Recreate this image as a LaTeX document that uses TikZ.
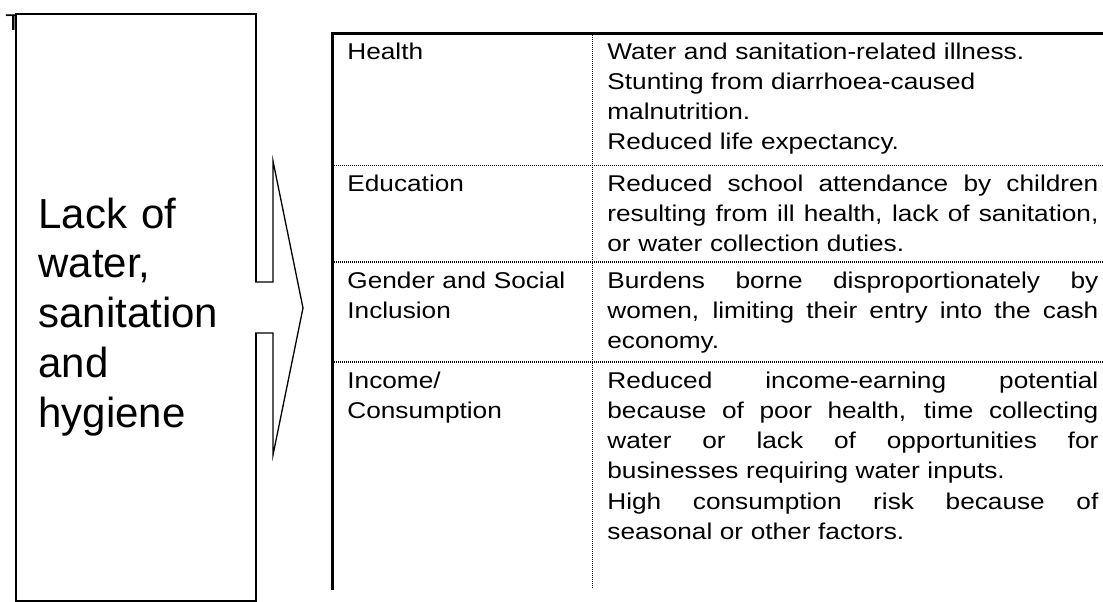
\documentclass[tikz,border=0pt]{standalone}
\usepackage{fontspec}
\setmainfont{Liberation Sans}
\newfontfamily\cellfont{Liberation Sans}[FakeStretch=1.15]
\usepackage{tikz}
\usetikzlibrary{positioning}
\newlength{\descwidth}
\setlength{\descwidth}{245.5pt}
\newcommand{\fillline}[1]{\makebox[\descwidth][s]{\spaceskip=0pt\xspaceskip=0pt #1}}
\tikzset{
  cellText/.style={font=\cellfont\fontsize{11.4}{15.15}\selectfont, inner sep=0pt, anchor=base west, align=left, text width=120pt},
  descText/.style={cellText, text width=\descwidth},
  bigText/.style={font=\fontsize{21}{24.9}\selectfont, inner sep=0pt, anchor=base west, align=left, text width=100pt},
  boxLine/.style={draw=black, line width=0.75pt, fill=white, inner sep=0pt},
  arrowLine/.style={draw=black, line width=0.65pt},
  ruleThick/.style={line width=1.5pt},
  ruleDot/.style={line width=0.7pt, dash pattern=on 0.5pt off 0.5pt}
}

\begin{document}
\begin{tikzpicture}[x=0.5pt,y=-0.5pt]
\useasboundingbox (0,0) rectangle (1103,601);

% cause box
\node[cellText, text width=] (tmark) at (5,30) {T};
\node[boxLine, minimum width=120pt, minimum height=293.5pt, anchor=north west] (cause) at (15,13) {};
\node[bigText] (causeText) at (38,228) {Lack of\\ water,\\ sanitation\\ and\\ hygiene};

% block arrow
\fill[white] (252,282) rectangle (273,333);
\draw[arrowLine] (255,282) -- (273,282) -- (273,161) -- (303,308) -- (273,455) -- (273,333) -- (255,333);

% table rules
\draw[ruleThick] (331,33.5) -- (1103,33.5);
\draw[ruleThick] (332.5,33) -- (332.5,590);
\draw[ruleDot] (592.5,35) -- (592.5,588);
\foreach \y in {165.5,262,362}
  \draw[ruleDot] (334,\y) -- (1103,\y);

% rows
\node[cellText] (health) at (347,59) {Health};
\node[descText] (healthDesc) at (607,59) {Water and sanitation-related illness.\\ Stunting from diarrhoea-caused\\ malnutrition.\\ Reduced life expectancy.};

\node[cellText] (educ) at (347,191) {Education};
\node[descText] (educDesc) at (607,191) {\fillline{Reduced school attendance by children}\\ \fillline{resulting from ill health, lack of sanitation,}\\ or water collection duties.};

\node[cellText] (gender) at (347,288) {Gender and Social\\ Inclusion};
\node[descText] (genderDesc) at (607,288) {\fillline{Burdens borne disproportionately by}\\ \fillline{women, limiting their entry into the cash}\\ economy.};

\node[cellText] (income) at (347,388) {Income/\\ Consumption};
\node[descText] (incomeDesc) at (607,388) {\fillline{Reduced income-earning potential}\\ \fillline{because of poor health, time collecting}\\ \fillline{water or lack of opportunities for}\\ businesses requiring water inputs.\\ \fillline{High consumption risk because of}\\ seasonal or other factors.};
\end{tikzpicture}
\end{document}
